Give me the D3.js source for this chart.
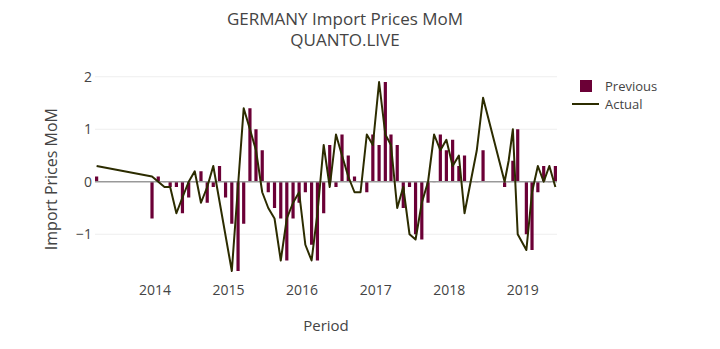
<!DOCTYPE html>
<html>
<head>
<meta charset="utf-8">
<script src="https://cdn.jsdelivr.net/npm/d3@7"></script>
<style>
  body { margin: 0; background: #fff; }
  svg { display: block; }
  text { font-family: "Open Sans", sans-serif; fill: #444; }
</style>
</head>
<body>
<svg id="chart" width="720" height="349"></svg>
<script>
// Release periods and monthly import price changes (%)
const periods = [
  "2013-03-20", "2013-12-20",
  "2014-01-20", "2014-02-20", "2014-03-20", "2014-04-20", "2014-05-20", "2014-06-20",
  "2014-07-20", "2014-08-20", "2014-09-20", "2014-10-20", "2014-11-20", "2014-12-20",
  "2015-01-20", "2015-02-20", "2015-03-20", "2015-04-20", "2015-05-20", "2015-06-20",
  "2015-07-20", "2015-08-20", "2015-09-20", "2015-10-20", "2015-11-20", "2015-12-20",
  "2016-01-20", "2016-02-20", "2016-03-20", "2016-04-20", "2016-05-20", "2016-06-20",
  "2016-07-20", "2016-08-20", "2016-09-20", "2016-10-20", "2016-11-20", "2016-12-20",
  "2017-01-20", "2017-02-20", "2017-03-20", "2017-04-20", "2017-05-20", "2017-06-20",
  "2017-07-20", "2017-08-20", "2017-09-20", "2017-10-20", "2017-11-20", "2017-12-20",
  "2018-01-20", "2018-02-20", "2018-03-20", "2018-05-20", "2018-06-20",
  "2018-10-05", "2018-10-25", "2018-11-15", "2018-12-09",
  "2019-01-21", "2019-02-18", "2019-03-19", "2019-04-17", "2019-05-15", "2019-06-14"
];
// Actual reading (null where no actual figure was published)
const actual = [
  0.3, 0.1,
  0.0, -0.1, -0.1, -0.6, -0.3, 0.0,
  0.2, -0.4, -0.1, 0.3, null, null,
  -1.7, null, 1.4, 1.0, 0.6, -0.2,
  -0.5, -0.7, -1.5, -0.7, -0.4, -0.2,
  -1.2, -1.5, -0.6, 0.7, -0.1, 0.9,
  0.5, 0.1, -0.2, -0.2, 0.9, 0.7,
  1.9, 0.9, 0.7, -0.5, -0.1, -1.0,
  -1.1, -0.4, 0.0, 0.9, 0.6, 0.8,
  0.3, 0.5, -0.6, 0.6, 1.6,
  0.0, 0.4, 1.0, -1.0,
  -1.3, -0.2, 0.3, 0.0, 0.3, -0.1
];
// Previous reading
const previous = [
  0.1, -0.7,
  0.1, 0.0, -0.1, -0.1, -0.6, -0.3,
  0.0, 0.2, -0.4, -0.1, 0.3, -0.3,
  -0.8, -1.7, -0.8, 1.4, 1.0, 0.6,
  -0.2, -0.5, -0.7, -1.5, -0.7, -0.4,
  -0.2, -1.2, -1.5, -0.6, 0.7, -0.1,
  0.9, 0.5, 0.1, 0.0, -0.2, 0.9,
  0.7, 1.9, 0.9, 0.7, -0.5, -0.1,
  -1.0, -1.1, -0.4, 0.0, 0.9, 0.6,
  0.8, 0.3, 0.5, 0.0, 0.6,
  -0.1, 0.0, 0.4, 1.0,
  -1.0, -1.3, -0.2, 0.3, 0.0, 0.3
];
const yTickValues = [-1, 0, 1, 2];
const xTickYears = ["2014", "2015", "2016", "2017", "2018", "2019"];

const titleLines = ["GERMANY Import Prices MoM", "QUANTO.LIVE"];
const yTitle = "Import Prices MoM";
const xTitle = "Period";
const seriesNames = ["Previous", "Actual"];

const barColor = "#6b0036";
const lineColor = "#2c2c00";

const parse = d3.timeParse("%Y-%m-%d");
const rows = periods.map((p, i) => ({ date: parse(p), actual: actual[i], previous: previous[i] }));

const svg = d3.select("#chart");
const plot = { left: 95, right: 557, top: 71.5, bottom: 281.5 };

const x = d3.scaleTime()
  .domain([parse("2013-03-12"), parse("2019-06-22")])
  .range([plot.left, plot.right]);
const y = d3.scaleLinear()
  .domain([-1.9, 2.1])
  .range([plot.bottom, plot.top]);

// Horizontal grid lines
svg.append("g")
  .selectAll("line")
  .data(yTickValues.filter(v => v !== 0))
  .join("line")
  .attr("x1", plot.left).attr("x2", plot.right)
  .attr("y1", d => y(d)).attr("y2", d => y(d))
  .attr("stroke", "#eee").attr("stroke-width", 1);

// Y axis labels
const yAxis = d3.axisLeft(y).tickValues(yTickValues).tickSize(0).tickPadding(3)
  .tickFormat(d => d < 0 ? "\u2212" + Math.abs(d) : d);
svg.append("g")
  .attr("transform", `translate(${plot.left},0)`)
  .call(yAxis)
  .call(g => g.select(".domain").remove())
  .call(g => g.selectAll("text").style("font-size", "14px").attr("fill", "#444"));

// X axis labels
const xAxis = d3.axisBottom(x)
  .tickValues(xTickYears.map(yr => parse(yr + "-01-01")))
  .tickSize(0).tickPadding(4)
  .tickFormat(d3.timeFormat("%Y"));
svg.append("g")
  .attr("transform", `translate(0,${plot.bottom})`)
  .call(xAxis)
  .call(g => g.select(".domain").remove())
  .call(g => g.selectAll("text").style("font-size", "14px").attr("fill", "#444"));

// Bars: previous reading
const barW = 3.2;
svg.append("g")
  .selectAll("rect")
  .data(rows.filter(d => d.previous != null))
  .join("rect")
  .attr("x", d => x(d.date) - barW / 2)
  .attr("width", barW)
  .attr("y", d => y(Math.max(0, d.previous)))
  .attr("height", d => Math.max(0.4, Math.abs(y(d.previous) - y(0))))
  .attr("fill", barColor);

// Zero line
svg.append("line")
  .attr("x1", plot.left).attr("x2", plot.right)
  .attr("y1", y(0)).attr("y2", y(0))
  .attr("stroke", "#999").attr("stroke-width", 1.5);

// Line: actual reading, joined across unpublished months
const line = d3.line().x(d => x(d.date)).y(d => y(d.actual));
svg.append("path")
  .datum(rows.filter(d => d.actual != null))
  .attr("d", line)
  .attr("fill", "none")
  .attr("stroke", lineColor)
  .attr("stroke-width", 2)
  .attr("stroke-linejoin", "round");

// Title
svg.append("g").selectAll("text")
  .data(titleLines)
  .join("text")
  .attr("x", 345).attr("y", (d, i) => 25 + i * 21)
  .attr("text-anchor", "middle")
  .style("font-size", "17px")
  .text(d => d);

// Axis titles
svg.append("text")
  .attr("x", (plot.left + plot.right) / 2).attr("y", 331)
  .attr("text-anchor", "middle")
  .style("font-size", "15px")
  .text(xTitle);
svg.append("text")
  .attr("transform", `translate(57,${y(0.05)}) rotate(-90)`)
  .attr("text-anchor", "middle")
  .style("font-size", "16px")
  .text(yTitle);

// Legend
const legend = svg.append("g").attr("transform", "translate(572,78)");
legend.append("rect").attr("x", 8).attr("y", 2).attr("width", 12).attr("height", 12).attr("fill", barColor);
legend.append("line").attr("x1", 0).attr("x2", 27).attr("y1", 26).attr("y2", 26)
  .attr("stroke", lineColor).attr("stroke-width", 2);
legend.selectAll("text.lbl")
  .data(seriesNames)
  .join("text")
  .attr("class", "lbl")
  .attr("x", 33).attr("y", (d, i) => 8 + i * 18)
  .attr("dy", "0.35em")
  .style("font-size", "13px")
  .text(d => d);
</script>
</body>
</html>
